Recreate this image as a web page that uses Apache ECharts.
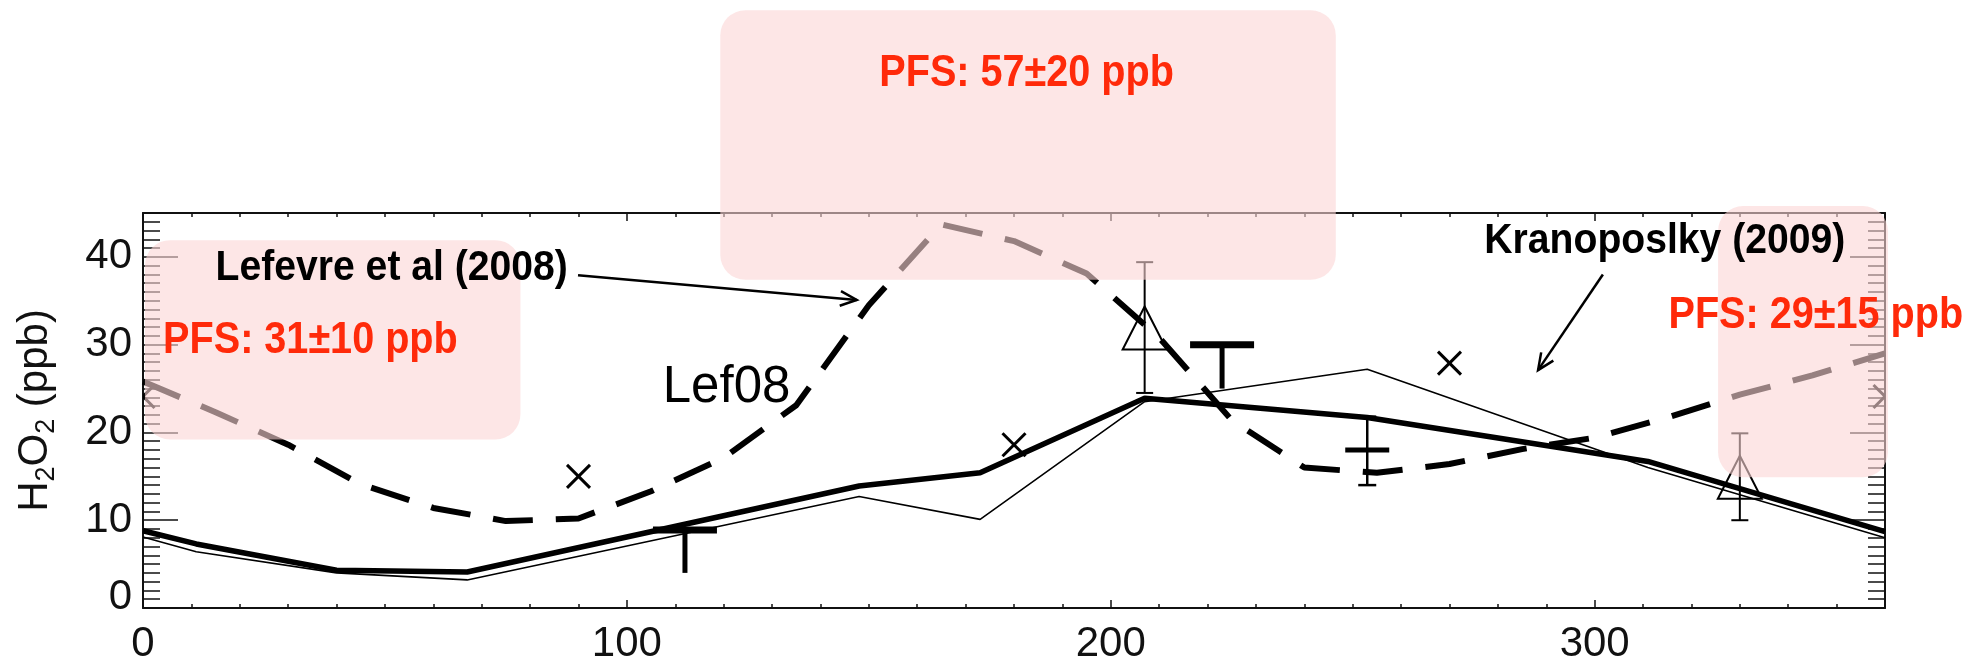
<!DOCTYPE html>
<html>
<head>
<meta charset="utf-8">
<script src="https://cdn.jsdelivr.net/npm/echarts@6/dist/echarts.min.js"></script>
<style>
  html, body { margin: 0; padding: 0; background: #fff; }
  #chart { width: 1980px; height: 668px; }
</style>
</head>
<body>
<div id="chart"></div>
<script>
// Solar longitude Ls (deg) against H2O2 mixing ratio (ppb)

// GCM profiles (thick and thin solid curves)
const modelLs    = [0, 11, 40, 67, 148, 173, 207, 253, 311, 360];
const modelThick = [8.8, 7.3, 4.3, 4.1, 13.9, 15.4, 23.9, 21.7, 16.7, 8.7];
const modelThin  = [8.1, 6.4, 4.0, 3.2, 12.7, 10.1, 23.5, 27.2, 16.0, 8.0];

// Lefevre et al. (2008) seasonal curve (dashed)
const lef08Ls  = [0, 15, 30, 45, 60, 75, 90, 105, 120, 135, 150, 165, 180,
                  195, 210, 225, 240, 255, 270, 285, 300, 315, 330, 345, 360];
const lef08Ppb = [25.8, 22.3, 18.6, 14.1, 11.4, 9.9, 10.2, 13.3, 17.1, 23.1, 34.5, 43.7, 41.8,
                  38.1, 30.8, 21.4, 16.0, 15.4, 16.4, 18.1, 19.4, 21.7, 24.3, 26.5, 29.0];

// Krasnopolsky (2009) values (crosses)
const krasLs  = [0, 90, 180, 270, 360];
const krasPpb = [24.1, 15.0, 18.6, 27.9, 24.1];

// PFS retrievals with error bars (triangles)
const pfsLs   = [207, 330];
const pfsPpb  = [31.9, 14.9];
const pfsLow  = [24.5, 10.0];
const pfsHigh = [39.4, 19.9];

// Ground-based values drawn as "T" marks (value and lower end)
const tLs   = [112, 223];
const tPpb  = [8.9, 30.0];
const tLow  = [4.0, 25.0];

// Ground-based value with symmetric error bar
const barLs   = [253];
const barPpb  = [18.0];
const barLow  = [14.0];
const barHigh = [21.8];

// Axis tick labels
const xMajor = [0, 100, 200, 300];
const yMajor = [0, 10, 20, 30, 40];

const FONT = '"Liberation Sans", Helvetica, Arial, sans-serif';
const INK = '#111';

const chart = echarts.init(document.getElementById('chart'), null, { renderer: 'canvas' });

function xAxisDef(pos, major) {
  return {
    type: 'value', position: pos, min: 0, max: 360,
    interval: major ? 100 : 10,
    axisLine: { show: major, onZero: false, lineStyle: { color: INK, width: 2 } },
    axisTick: major
      ? { show: true, inside: true, length: 8, customValues: xMajor, lineStyle: { color: INK, width: 1.5 } }
      : { show: true, inside: true, length: 4, lineStyle: { color: INK, width: 1.5 } },
    axisLabel: (major && pos === 'bottom')
      ? { show: true, customValues: xMajor, margin: 15, fontSize: 42, lineHeight: 42,
          fontFamily: FONT, color: INK }
      : { show: false },
    splitLine: { show: false }
  };
}

function yAxisDef(pos, major) {
  return {
    type: 'value', position: pos, min: 0, max: 45,
    interval: major ? 10 : 1,
    axisLine: { show: major, onZero: false, lineStyle: { color: INK, width: 2 } },
    axisTick: major
      ? { show: true, inside: true, length: 35, customValues: yMajor, lineStyle: { color: INK, width: 1.5 } }
      : { show: true, inside: true, length: 17, lineStyle: { color: INK, width: 1.5 } },
    axisLabel: (major && pos === 'left')
      ? { show: true, customValues: yMajor, margin: 11, fontSize: 42, lineHeight: 22,
          fontFamily: FONT, color: INK, verticalAlignMinLabel: 'bottom' }
      : { show: false },
    splitLine: { show: false }
  };
}

const yName = {
  name: '{n|H}{s|2}{n|O}{s|2}{n| (ppb)}',
  nameLocation: 'middle',
  nameRotate: 90,
  nameGap: 83,
  nameTextStyle: {
    rich: {
      n: { fontSize: 42, lineHeight: 50, fontFamily: FONT, color: INK },
      s: { fontSize: 27, lineHeight: 20, fontFamily: FONT, color: INK, verticalAlign: 'bottom' }
    }
  }
};

// Cross marker
function crossItem(params, api) {
  const p = api.coord([api.value(0), api.value(1)]);
  const h = 11.5;
  const st = { stroke: '#000', lineWidth: 3 };
  return {
    type: 'group',
    children: [
      { type: 'line', shape: { x1: p[0] - h, y1: p[1] - h, x2: p[0] + h, y2: p[1] + h }, style: st },
      { type: 'line', shape: { x1: p[0] - h, y1: p[1] + h, x2: p[0] + h, y2: p[1] - h }, style: st }
    ]
  };
}

// Open triangle with capped error bar
function triangleItem(params, api) {
  const x = api.value(0);
  const c = api.coord([x, api.value(1)]);
  const lo = api.coord([x, api.value(2)]);
  const hi = api.coord([x, api.value(3)]);
  const w = 22, hh = 21.5, cap = 8.5;
  const st = { stroke: '#000', lineWidth: 2, fill: null };
  return {
    type: 'group',
    children: [
      { type: 'polygon', shape: { points: [[c[0], c[1] - hh], [c[0] + w, c[1] + hh], [c[0] - w, c[1] + hh]] }, style: st },
      { type: 'line', shape: { x1: lo[0], y1: lo[1], x2: hi[0], y2: hi[1] }, style: st },
      { type: 'line', shape: { x1: lo[0] - cap, y1: lo[1], x2: lo[0] + cap, y2: lo[1] }, style: st },
      { type: 'line', shape: { x1: hi[0] - cap, y1: hi[1], x2: hi[0] + cap, y2: hi[1] }, style: st }
    ]
  };
}

// Thick "T": bar at the value, stem down to the lower end
function tItem(params, api) {
  const x = api.value(0);
  const v = api.coord([x, api.value(1)]);
  const lo = api.coord([x, api.value(2)]);
  const half = 32;
  return {
    type: 'group',
    children: [
      { type: 'line', shape: { x1: v[0] - half, y1: v[1], x2: v[0] + half, y2: v[1] }, style: { stroke: '#000', lineWidth: 7 } },
      { type: 'line', shape: { x1: v[0], y1: v[1], x2: lo[0], y2: lo[1] }, style: { stroke: '#000', lineWidth: 5 } }
    ]
  };
}

// Thick bar at the value with thin capped error bar
function barItem(params, api) {
  const x = api.value(0);
  const v = api.coord([x, api.value(1)]);
  const lo = api.coord([x, api.value(2)]);
  const hi = api.coord([x, api.value(3)]);
  const half = 22, cap = 9;
  const thin = { stroke: '#000', lineWidth: 2.5 };
  return {
    type: 'group',
    children: [
      { type: 'line', shape: { x1: v[0] - half, y1: v[1], x2: v[0] + half, y2: v[1] }, style: { stroke: '#000', lineWidth: 5 } },
      { type: 'line', shape: { x1: lo[0], y1: lo[1], x2: hi[0], y2: hi[1] }, style: thin },
      { type: 'line', shape: { x1: lo[0] - cap, y1: lo[1], x2: lo[0] + cap, y2: lo[1] }, style: thin },
      { type: 'line', shape: { x1: hi[0] - cap, y1: hi[1], x2: hi[0] + cap, y2: hi[1] }, style: thin }
    ]
  };
}

const zip = (...cols) => cols[0].map((_, i) => cols.map(c => c[i]));

chart.setOption({
  animation: false,
  backgroundColor: '#fff',
  grid: { left: 143, right: 95, top: 213, bottom: 60, containLabel: false },
  xAxis: [xAxisDef('bottom', true), xAxisDef('bottom', false), xAxisDef('top', true), xAxisDef('top', false)],
  yAxis: [Object.assign(yAxisDef('left', true), yName), yAxisDef('left', false),
          yAxisDef('right', true), yAxisDef('right', false)],
  series: [
    {
      type: 'line', data: zip(modelLs, modelThin), showSymbol: false, z: 3,
      lineStyle: { color: '#000', width: 1.6 }
    },
    {
      type: 'line', data: zip(modelLs, modelThick), showSymbol: false, z: 4,
      lineStyle: { color: '#000', width: 5.5 }
    },
    {
      type: 'line', data: zip(lef08Ls, lef08Ppb), showSymbol: false, z: 5,
      lineStyle: { color: '#000', width: 6, type: [40, 23] }
    },
    { type: 'custom', data: zip(krasLs, krasPpb), renderItem: crossItem, clip: true, z: 6 },
    { type: 'custom', data: zip(pfsLs, pfsPpb, pfsLow, pfsHigh), renderItem: triangleItem, clip: true, z: 6 },
    { type: 'custom', data: zip(tLs, tPpb, tLow), renderItem: tItem, clip: true, z: 6 },
    { type: 'custom', data: zip(barLs, barPpb, barLow, barHigh), renderItem: barItem, clip: true, z: 6 }
  ]
});

// Annotation layer: PFS seasonal boxes, labels and arrows (placed in data units)
const px = p => chart.convertToPixel({ xAxisIndex: 0, yAxisIndex: 0 }, p);

const boxRegions = [
  { ls: [0.4, 78], ppb: [19.2, 41.9] },
  { ls: [119.3, 246.5], ppb: [37.4, 68.1] },
  { ls: [325.5, 360.6], ppb: [14.9, 45.8] }
];
const pfsTexts = [
  { text: 'PFS: 31±10 ppb', at: [34.6, 30.4] },
  { text: 'PFS: 57±20 ppb', at: [182.6, 60.9] },
  { text: 'PFS: 29±15 ppb', at: [345.7, 33.3] }
];
const notes = [
  { text: 'Lefevre et al (2008)', at: [51.4, 38.7], weight: 'bold', size: 43, squeeze: 0.91 },
  { text: 'Kranoposlky (2009)', at: [314.5, 41.8], weight: 'bold', size: 43, squeeze: 0.91 },
  { text: 'Lef08', at: [120.6, 25.1], weight: 'normal', size: 51, squeeze: 1 }
];
const arrows = [
  { from: [89.9, 37.9], to: [147.5, 35.1] },
  { from: [301.7, 38.0], to: [288.3, 27.1] }
];

const graphics = [];
boxRegions.forEach(b => {
  const a = px([b.ls[0], b.ppb[1]]);
  const c = px([b.ls[1], b.ppb[0]]);
  graphics.push({
    type: 'rect', z: 100,
    shape: { x: a[0], y: a[1], width: c[0] - a[0], height: c[1] - a[1], r: 25 },
    style: { fill: 'rgba(252, 214, 214, 0.6)' }
  });
});
arrows.forEach(ar => {
  const s = px(ar.from), t = px(ar.to);
  const ang = Math.atan2(t[1] - s[1], t[0] - s[0]);
  const L = 18, spread = 0.42;
  const h1 = [t[0] - L * Math.cos(ang - spread), t[1] - L * Math.sin(ang - spread)];
  const h2 = [t[0] - L * Math.cos(ang + spread), t[1] - L * Math.sin(ang + spread)];
  const st = { stroke: '#000', lineWidth: 2.5, fill: null };
  graphics.push({ type: 'line', z: 90, shape: { x1: s[0], y1: s[1], x2: t[0], y2: t[1] }, style: st });
  graphics.push({ type: 'polyline', z: 90, shape: { points: [h1, t, h2] }, style: st });
});
pfsTexts.forEach(l => {
  const p = px(l.at);
  graphics.push({
    type: 'text', z: 120, x: p[0], y: p[1], scaleX: 0.9,
    style: { text: l.text, fill: '#ff2a0a', fontSize: 44, fontWeight: 'bold', fontFamily: FONT,
             align: 'center', verticalAlign: 'middle' }
  });
});
notes.forEach(l => {
  const p = px(l.at);
  graphics.push({
    type: 'text', z: 120, x: p[0], y: p[1], scaleX: l.squeeze,
    style: { text: l.text, fill: '#000', fontSize: l.size, fontWeight: l.weight, fontFamily: FONT,
             align: 'center', verticalAlign: 'middle' }
  });
});
chart.setOption({ graphic: graphics });
</script>
</body>
</html>
